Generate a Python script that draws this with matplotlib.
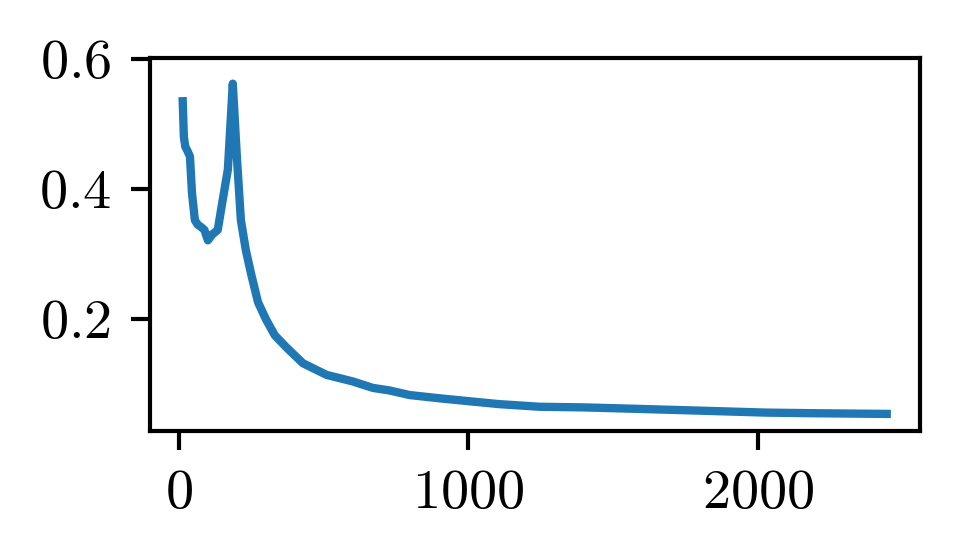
import matplotlib
matplotlib.use("Agg")
import matplotlib.pyplot as plt

plt.rcParams['font.family'] = 'serif'
plt.rcParams['font.serif'] = ['cmr10']
plt.rcParams['mathtext.fontset'] = 'cm'
plt.rcParams['axes.formatter.use_mathtext'] = True

steps = [13, 17, 22, 30, 38, 45, 55, 65, 75, 88, 100, 115, 134, 150, 169, 186,
         200, 214, 231, 250, 273, 300, 331, 372, 428, 510, 600, 670, 728, 797,
         900, 1014, 1107, 1245, 1400, 1566, 1800, 2028, 2200, 2445]
loss = [0.535, 0.48, 0.465, 0.458, 0.45, 0.394, 0.352, 0.345, 0.342, 0.337, 0.321,
        0.330, 0.337, 0.38, 0.43, 0.562, 0.45, 0.352, 0.306, 0.268, 0.226, 0.20,
        0.175, 0.156, 0.132, 0.114, 0.104, 0.094, 0.090, 0.083, 0.078, 0.073,
        0.069, 0.065, 0.064, 0.062, 0.059, 0.056, 0.055, 0.054]
yticks = [0.2, 0.4, 0.6]
xticks = [0, 1000, 2000]

fig = plt.figure(figsize=(3.2, 560 / 300), dpi=300)
ax = fig.add_axes([150 / 960, 1 - 431 / 560, 770 / 960, 373 / 560])
ax.plot(steps, loss, color='#1f77b4', linewidth=2.0)
ax.set_xticks(xticks)
ax.set_yticks(yticks)
ax.set_ylim(0.0277, 0.6015)
ax.set_xlim(-100, 2560)
for s in ax.spines.values():
    s.set_linewidth(1.0)
ax.tick_params(axis='both', which='major', labelsize=13.5, length=4.5, width=1.0, pad=4.8)
fig.savefig('out.png', dpi=300)
